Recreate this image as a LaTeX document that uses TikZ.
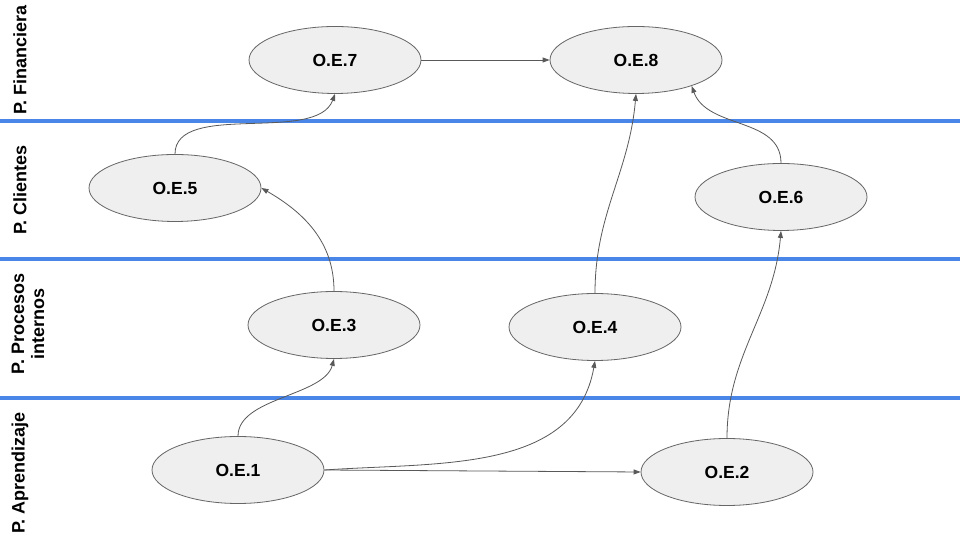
\documentclass[tikz,border=0pt]{standalone}
\usepackage{fontspec}
\setmainfont{Liberation Sans}
\usetikzlibrary{arrows.meta,shapes.geometric}
\definecolor{lanecol}{HTML}{4A86E8}
\definecolor{edgecol}{HTML}{595959}
\definecolor{fillcol}{HTML}{EFEFEF}
\definecolor{bordercol}{HTML}{666666}
\tikzset{
  oe/.style={ellipse, draw=bordercol, fill=fillcol, line width=0.8pt,
    minimum width=172pt, minimum height=67pt, inner sep=0pt,
    font=\fontsize{17.5}{20}\selectfont\bfseries},
  lane/.style={draw=lanecol, line width=4pt},
  lanelabel/.style={rotate=90, align=center, inner sep=0pt,
    font=\fontsize{18}{20}\selectfont\bfseries},
  link/.style={draw=edgecol, line width=0.8pt, -{Triangle[length=7pt,width=5pt]}}
}
\begin{document}
\begin{tikzpicture}[x=1pt,y=1pt]
\useasboundingbox (0,0) rectangle (960,540);
\fill[white] (0,0) rectangle (960,540);
% lanes
\coordinate (l1a) at (0,419); \coordinate (l1b) at (960,419);
\coordinate (l2a) at (0,281); \coordinate (l2b) at (960,281);
\coordinate (l3a) at (0,142); \coordinate (l3b) at (960,142);
\draw[lane] (l1a) -- (l1b);
\draw[lane] (l2a) -- (l2b);
\draw[lane] (l3a) -- (l3b);
% lane labels
\node[lanelabel] (pf) at (20,480) {P. Financiera};
\node[lanelabel] (pc) at (20,350) {P. Clientes};
\node[lanelabel] (pp) at (28,216) {P. Procesos\\internos};
\node[lanelabel] (pa) at (20,67) {P. Aprendizaje};
% nodes
\node[oe] (o7) at (335,480) {O.E.7};
\node[oe] (o8) at (636,480) {O.E.8};
\node[oe] (o5) at (175,352) {O.E.5};
\node[oe] (o6) at (781,343) {O.E.6};
\node[oe] (o3) at (334,215) {O.E.3};
\node[oe] (o4) at (595,213) {O.E.4};
\node[oe] (o1) at (238,70) {O.E.1};
\node[oe] (o2) at (727,68) {O.E.2};
% links
\draw[link] (o7.east) -- (o8.west);
\draw[link] (o5.north) to[out=90,in=-110,looseness=0.8] (o7.south);
\draw[link] (o3.north) to[out=90,in=-30] (o5.east);
\draw[link] (o1.north) to[out=90,in=-105,looseness=0.8] (o3.south);
\draw[link] (o1.east) to[out=4,in=-100] (o4.south);
\draw[link] (o1.east) -- (o2.west);
\draw[link] (o2.north) to[out=90,in=-95] (o6.south);
\draw[link] (o4.north) to[out=90,in=-95] (o8.south);
\draw[link] (o6.north) to[out=90,in=-70] (o8.-25);
\end{tikzpicture}
\end{document}
